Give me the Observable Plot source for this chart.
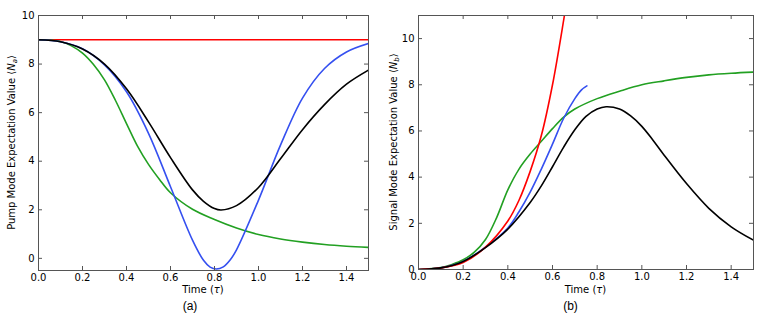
<!DOCTYPE html>
<html><head><meta charset="utf-8">
<script src="https://cdn.jsdelivr.net/npm/d3@7"></script>
<script src="https://cdn.jsdelivr.net/npm/@observablehq/plot@0.6"></script>
<style>
body{margin:0;background:#fff;}
#wrap{display:flex;width:761px;height:317px;overflow:hidden;}
.panel{position:relative;}
.cap{font:12px "Liberation Sans",Arial,sans-serif;text-align:center;height:21px;line-height:21px;color:#000;}
</style></head><body><div id="wrap"></div>
<script>
// ---- tick labels ----
const timeTicks = [0, 0.2, 0.4, 0.6, 0.8, 1.0, 1.2, 1.4];
const pumpTicks = [0, 2, 4, 6, 8, 10];
const signalTicks = [0, 2, 4, 6, 8, 10];

// ---- panel (a): pump mode <N_a> ----
const pumpRedT = [0, 1.5];
const pumpRedV = [9, 9];
const pumpBlackT = [0, 0.1, 0.2, 0.3, 0.4, 0.5, 0.6, 0.7, 0.75, 0.8, 0.83, 0.9, 1.0, 1.1, 1.2, 1.3, 1.4, 1.5];
const pumpBlackV = [9, 8.92, 8.62, 8.0, 6.98, 5.62, 4.15, 2.82, 2.35, 2.05, 1.99, 2.17, 2.92, 4.1, 5.3, 6.33, 7.17, 7.75];
const pumpBlueT = [0, 0.1, 0.2, 0.3, 0.4, 0.5, 0.6, 0.7, 0.75, 0.78, 0.808, 0.84, 0.87, 0.9, 1.0, 1.1, 1.2, 1.3, 1.4, 1.5];
const pumpBlueV = [9, 8.92, 8.63, 7.97, 6.86, 5.15, 2.95, 0.75, -0.08, -0.36, -0.44, -0.35, -0.08, 0.35, 2.4, 4.66, 6.6, 7.82, 8.5, 8.85];
const pumpGreenT = [0, 0.1, 0.15, 0.2, 0.25, 0.3, 0.35, 0.4, 0.45, 0.5, 0.55, 0.6, 0.7, 0.8, 0.9, 1.0, 1.1, 1.2, 1.3, 1.4, 1.5];
const pumpGreenV = [9, 8.93, 8.75, 8.45, 7.98, 7.35, 6.5, 5.55, 4.62, 3.87, 3.25, 2.7, 2.02, 1.6, 1.25, 0.98, 0.8, 0.67, 0.57, 0.5, 0.45];

// ---- panel (b): signal mode <N_b> ----
const sigBlackT = [0, 0.1, 0.2, 0.3, 0.4, 0.5, 0.55, 0.6, 0.65, 0.7, 0.75, 0.8, 0.84, 0.9, 0.95, 1.0, 1.05, 1.1, 1.2, 1.3, 1.4, 1.5];
const sigBlackV = [0, 0.07, 0.35, 0.95, 1.75, 2.9, 3.62, 4.45, 5.3, 6.05, 6.63, 6.95, 7.05, 6.95, 6.65, 6.2, 5.6, 4.95, 3.72, 2.65, 1.85, 1.27];
const sigBlueT = [0, 0.1, 0.2, 0.3, 0.4, 0.45, 0.5, 0.55, 0.6, 0.65, 0.7, 0.73, 0.754];
const sigBlueV = [0, 0.07, 0.35, 0.97, 1.8, 2.5, 3.35, 4.35, 5.43, 6.55, 7.4, 7.78, 7.95];
const sigRedT = [0, 0.1, 0.2, 0.3, 0.4, 0.45, 0.5, 0.55, 0.6, 0.65, 0.66];
const sigRedV = [0, 0.07, 0.3, 0.97, 2.1, 3.0, 4.25, 5.8, 8.0, 10.8, 11.4];
const sigGreenT = [0, 0.1, 0.15, 0.2, 0.25, 0.3, 0.35, 0.4, 0.45, 0.5, 0.55, 0.6, 0.65, 0.7, 0.8, 0.9, 1.0, 1.1, 1.2, 1.3, 1.4, 1.5];
const sigGreenV = [0, 0.08, 0.22, 0.42, 0.75, 1.3, 2.25, 3.45, 4.35, 5.0, 5.55, 6.1, 6.6, 6.95, 7.4, 7.72, 8.0, 8.17, 8.32, 8.43, 8.5, 8.55];

const colors = {red: "#ff0000", black: "#000000", blue: "#3550f0", green: "#22a022"};

const rows = (T, V) => T.map((t, i) => ({t, v: V[i]}));

function panel({width, ml, mr, mt, mb, yDomain, yTicks, series, yLabel, ySub, yLabelX, caption}) {
  const height = 296;
  const fw = width - ml - mr, fh = height - mt - mb;
  const marks = [];
  for (const s of series) {
    marks.push(Plot.line(rows(s.T, s.V), {x: "t", y: "v", stroke: colors[s.color], strokeWidth: 1.6, curve: "catmull-rom", clip: true}));
  }
  marks.push(
    Plot.frame({stroke: "#555", strokeWidth: 1}),
    Plot.tickX(timeTicks, {x: d => d, insetTop: fh - 4, stroke: "#555"}),
    Plot.tickX(timeTicks, {x: d => d, insetBottom: fh - 4, stroke: "#555"}),
    Plot.tickY(yTicks, {y: d => d, insetRight: fw - 4, stroke: "#555"}),
    Plot.tickY(yTicks, {y: d => d, insetLeft: fw - 4, stroke: "#555"}),
    Plot.axisX(timeTicks, {tickSize: 0, tickPadding: 3, tickFormat: d3.format(".1f"), label: null, fontSize: 10}),
    Plot.axisY(yTicks, {tickSize: 0, tickPadding: 4, label: null, fontSize: 10})
  );
  const svg = Plot.plot({
    width, height,
    marginLeft: ml, marginRight: mr, marginTop: mt, marginBottom: mb,
    x: {domain: [0, 1.5]},
    y: {domain: yDomain},
    style: {fontFamily: "DejaVu Sans, sans-serif", fontSize: "10px", background: "#fff", color: "#000", overflow: "visible"},
    marks
  });
  const s = d3.select(svg);
  const yl = s.append("text")
    .attr("transform", `translate(${yLabelX},${mt + fh / 2}) rotate(-90)`)
    .attr("text-anchor", "middle")
    .attr("font-family", "DejaVu Sans, sans-serif")
    .attr("font-size", 10)
    .attr("fill", "#000");
  yl.append("tspan").text(yLabel + " \u27E8");
  yl.append("tspan").attr("font-style", "italic").text("N");
  yl.append("tspan").attr("font-size", 7).attr("dy", 2).attr("font-style", "italic").text(ySub);
  yl.append("tspan").attr("dy", -2).text("\u27E9");
  const xl = s.append("text")
    .attr("x", ml + fw / 2).attr("y", height - 3)
    .attr("text-anchor", "middle")
    .attr("font-family", "DejaVu Sans, sans-serif")
    .attr("font-size", 10)
    .attr("fill", "#000");
  xl.append("tspan").text("Time (");
  xl.append("tspan").attr("font-style", "italic").text("\u03C4");
  xl.append("tspan").text(")");
  const div = document.createElement("div");
  div.className = "panel";
  div.style.width = width + "px";
  div.appendChild(svg);
  const cap = document.createElement("div");
  cap.className = "cap";
  cap.textContent = caption;
  div.appendChild(cap);
  return div;
}

const wrap = document.getElementById("wrap");
wrap.appendChild(panel({
  width: 380, ml: 38, mr: 12, mt: 15, mb: 26,
  yDomain: [-0.5, 10], yTicks: pumpTicks,
  series: [
    {T: pumpRedT, V: pumpRedV, color: "red"},
    {T: pumpGreenT, V: pumpGreenV, color: "green"},
    {T: pumpBlueT, V: pumpBlueV, color: "blue"},
    {T: pumpBlackT, V: pumpBlackV, color: "black"}
  ],
  yLabel: "Pump Mode Expectation Value", ySub: "a", yLabelX: 15,
  caption: "(a)"
}));
wrap.appendChild(panel({
  width: 381, ml: 38, mr: 8, mt: 15, mb: 27,
  yDomain: [0, 11], yTicks: signalTicks,
  series: [
    {T: sigGreenT, V: sigGreenV, color: "green"},
    {T: sigBlueT, V: sigBlueV, color: "blue"},
    {T: sigRedT, V: sigRedV, color: "red"},
    {T: sigBlackT, V: sigBlackV, color: "black"}
  ],
  yLabel: "Signal Mode Expectation Value", ySub: "b", yLabelX: 17,
  caption: "(b)"
}));
</script></body></html>
